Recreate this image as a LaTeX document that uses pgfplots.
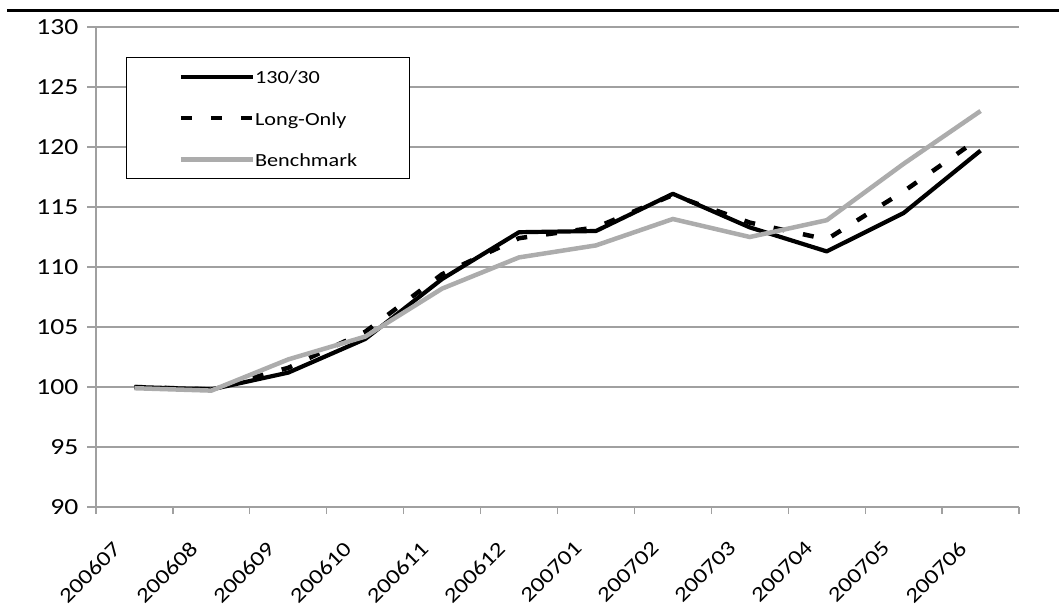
\documentclass[border=0pt]{standalone}
\usepackage{pgfplots}
\pgfplotsset{compat=1.18}
\usepackage{fontspec}
\setmainfont{Carlito}[FakeStretch=1.2]
\definecolor{gridc}{RGB}{160,160,160}
\definecolor{benchc}{RGB}{172,172,172}
\begin{document}
\begin{tikzpicture}
\begin{axis}[
  name=ax,
  scale only axis,
  width=923pt, height=480pt,
  xmin=-0.5, xmax=11.5,
  ymin=90, ymax=130,
  ytick={90,95,...,130},
  xtick={0,...,11},
  xticklabels={200607,200608,200609,200610,200611,200612,200701,200702,200703,200704,200705,200706},
  minor xtick={-0.5,0.5,...,11.5},
  axis x line*=bottom, axis y line*=left,
  axis line style={gridc, line width=1.2pt, -},
  ymajorgrids, major grid style={gridc, line width=1.2pt},
  tick align=outside,
  major tick length=9pt, minor tick length=7pt,
  x tick style={gridc, line width=1.2pt},
  y tick style={gridc, line width=1.2pt},
  major x tick style={draw=none},
  yticklabel style={font=\fontsize{23}{27}\selectfont},
  xticklabel style={font=\fontsize{21}{25}\selectfont},
  /pgf/number format/assume math mode=true,
  yticklabel shift=5pt,
  xticklabel shift=43pt,
  xticklabel style={anchor=north east, rotate=45, xshift=1pt, yshift=33pt},
  clip=false,
  legend style={at={(0.0325,0.9375)}, anchor=north west, draw=black, line width=1.2pt,
    inner xsep=52pt, inner ysep=10pt, row sep=23.5pt,
    font=\fontsize{18.5}{22}\selectfont,
    nodes={inner sep=0pt, text height=16pt, text depth=2pt, anchor=west}},
  legend cell align=left,
  legend image code/.code={\draw[#1] (0pt,0pt) -- (72pt,0pt);},
  legend style={/tikz/every even column/.append style={column sep=2pt}},
]
\addplot[black, line width=4.2pt, line join=round] coordinates {
(0,100.0) (1,99.8) (2,101.2) (3,104.0) (4,109.0) (5,112.9) (6,113.0) (7,116.1) (8,113.3) (9,111.3) (10,114.5) (11,119.7)};
\addlegendentry{130/30}
\addplot[black, line width=4.5pt, dash pattern=on 11pt off 19pt] coordinates {
(0,100.0) (1,99.8) (2,101.6) (3,104.6) (4,109.4) (5,112.4) (6,113.3) (7,116.0) (8,113.7) (9,112.3) (10,116.3) (11,120.8)};
\addlegendentry{Long-Only}
\addplot[benchc, line width=4.5pt] coordinates {
(0,99.9) (1,99.7) (2,102.3) (3,104.2) (4,108.2) (5,110.8) (6,111.8) (7,114.0) (8,112.5) (9,113.9) (10,118.6) (11,123.0)};
\addlegendentry{Benchmark}
\draw[black, line width=3.3pt] (rel axis cs:-0.0964,1.0344) -- (rel axis cs:1.0433,1.0344);
\end{axis}
\pgfresetboundingbox
\path (ax.south west) ++(-96pt,-99pt) rectangle ++(1059pt,606pt);
\end{tikzpicture}
\end{document}
